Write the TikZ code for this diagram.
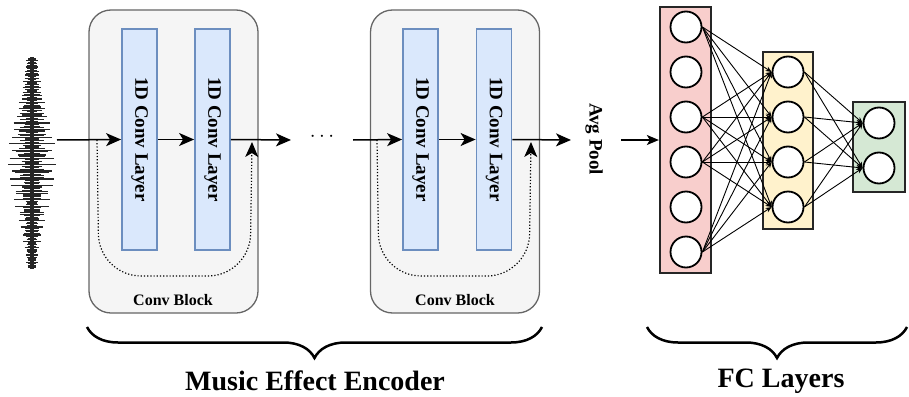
\documentclass[tikz,border=0pt]{standalone}
\usepackage{fontspec}
\setmainfont{Liberation Serif}
\usepackage{graphicx}
\usetikzlibrary{arrows.meta,decorations.pathreplacing}
\definecolor{blockfill}{HTML}{F5F5F5}
\definecolor{blockline}{HTML}{666666}
\definecolor{convfill}{HTML}{DAE8FC}
\definecolor{convline}{HTML}{6C8EBF}
\definecolor{redfill}{HTML}{F8CECC}
\definecolor{yelfill}{HTML}{FFF2CC}
\definecolor{grnfill}{HTML}{D5E8D4}

\begin{document}
\begin{tikzpicture}[x=1pt,y=-1pt,
  block/.style={draw=blockline,fill=blockfill,line width=1.3pt,rounded corners=22pt,minimum width=169pt,minimum height=303pt,inner sep=0pt},
  convlayer/.style={draw=convline,fill=convfill,line width=1.8pt,minimum width=35pt,minimum height=221pt,inner sep=0pt,font=\fontsize{19}{20}\selectfont\bfseries},
  flow/.style={line width=1.5pt,-{Stealth[length=15pt,width=13pt,inset=4pt]}},
  skip/.style={line width=1.2pt,dotted,rounded corners=42pt,-{Stealth[length=15pt,width=13pt,inset=4pt]}},
  fcbox/.style={draw=black!85,line width=2.3pt,inner sep=0pt},
  neuron/.style={circle,draw=black,fill=white,line width=1.8pt,minimum size=31pt,inner sep=0pt},
  link/.style={line width=0.9pt,-{Stealth[length=6pt,width=5pt]}},
  wave/.style={line width=1.3pt,black!85},
  brace/.style={line width=2.5pt,decorate,decoration={brace,mirror,amplitude=31pt}},
  small/.style={font=\fontsize{16}{18}\selectfont\bfseries},
  big/.style={font=\fontsize{28}{30}\selectfont\bfseries}]
\useasboundingbox (0,0) rectangle (909,396);

% waveform
\draw[black!85,line width=4pt] (32,57) -- (32,269);
\foreach \i in {0,...,130} {
  \pgfmathsetmacro\yy{59+1.6*\i}
  \pgfmathsetmacro\hw{3.5+(21*exp(-((\yy-160)/70)^2))*(0.12+0.88*abs(sin(\i*97)*cos(\i*41)))}
  \draw[wave] (32-\hw,\yy) -- (32+\hw,\yy);
}
\coordinate (wav) at (57,140);

% conv blocks
\node[block] (blk1) at (173.5,161.5) {};
\node[block] (blk2) at (455,161.5) {};
\node[convlayer] (c1a) at (139.5,139.5) {\rotatebox{-90}{1D Conv Layer}};
\node[convlayer] (c1b) at (212.5,139.5) {\rotatebox{-90}{1D Conv Layer}};
\node[convlayer] (c2a) at (420.5,139.5) {\rotatebox{-90}{1D Conv Layer}};
\node[convlayer] (c2b) at (494,139.5) {\rotatebox{-90}{1D Conv Layer}};
\node[small] (lbl1) at (173,300) {Conv Block};
\node[small] (lbl2) at (455,300) {Conv Block};

\coordinate (out1) at (291,140);
\coordinate (in2) at (353,140);
\coordinate (out2) at (571,140);
\coordinate (s1) at (97,140);
\coordinate (e1) at (252,142);
\coordinate (s2) at (377,140);
\coordinate (e2) at (531,142);

\draw[flow] (wav) -- (c1a.west);
\draw[flow] (c1a.east) -- (c1b.west);
\draw[flow] (c1b.east) -- (out1);
\draw[flow] (in2) -- (c2a.west);
\draw[flow] (c2a.east) -- (c2b.west);
\draw[flow] (c2b.east) -- (out2);
\draw[skip] (s1) -- (99,276) -- (250,276) -- (e1);
\draw[skip] (s2) -- (379,276) -- (529,276) -- (e2);
\node[font=\fontsize{20}{20}\selectfont] (dots) at (322,137) {$\cdots$};

% pooling
\node[font=\fontsize{19}{20}\selectfont\bfseries] (pool) at (594,139) {\rotatebox{-90}{Avg Pool}};
\coordinate (pin) at (621,140);

% fc layers
\node[fcbox,fill=redfill,minimum width=51pt,minimum height=266pt] (fc1) at (685.5,140) {};
\node[fcbox,fill=yelfill,minimum width=50pt,minimum height=177pt] (fc2) at (788,140.5) {};
\node[fcbox,fill=grnfill,minimum width=52pt,minimum height=90pt] (fc3) at (879,147) {};
\draw[line width=1.5pt,-{Stealth[length=12pt,width=10pt,inset=3pt]}] (pin) -- (fc1.west);
\foreach \k in {1,...,6}
  \node[neuron] (a\k) at (686,{27+45*(\k-1)}) {};
\foreach \k in {1,...,4}
  \node[neuron] (b\k) at (788,{72+45*(\k-1)}) {};
\foreach \k in {1,2}
  \node[neuron] (c\k) at (879,{123+45*(\k-1)}) {};
\foreach \i in {1,3,4,6}
  \foreach \j in {1,...,4}
    \draw[link] (a\i.east) -- (b\j.west);
\foreach \i in {1,...,4}
  \foreach \j in {1,2}
    \draw[link] (b\i.east) -- (c\j.west);

% braces and titles
\draw[brace] (87,327) -- (542,327);
\draw[brace] (647,327) -- (907,327);
\node[big] (enc) at (315,381) {Music Effect Encoder};
\node[big] (fcl) at (781,381) {FC Layers};
\end{tikzpicture}
\end{document}
